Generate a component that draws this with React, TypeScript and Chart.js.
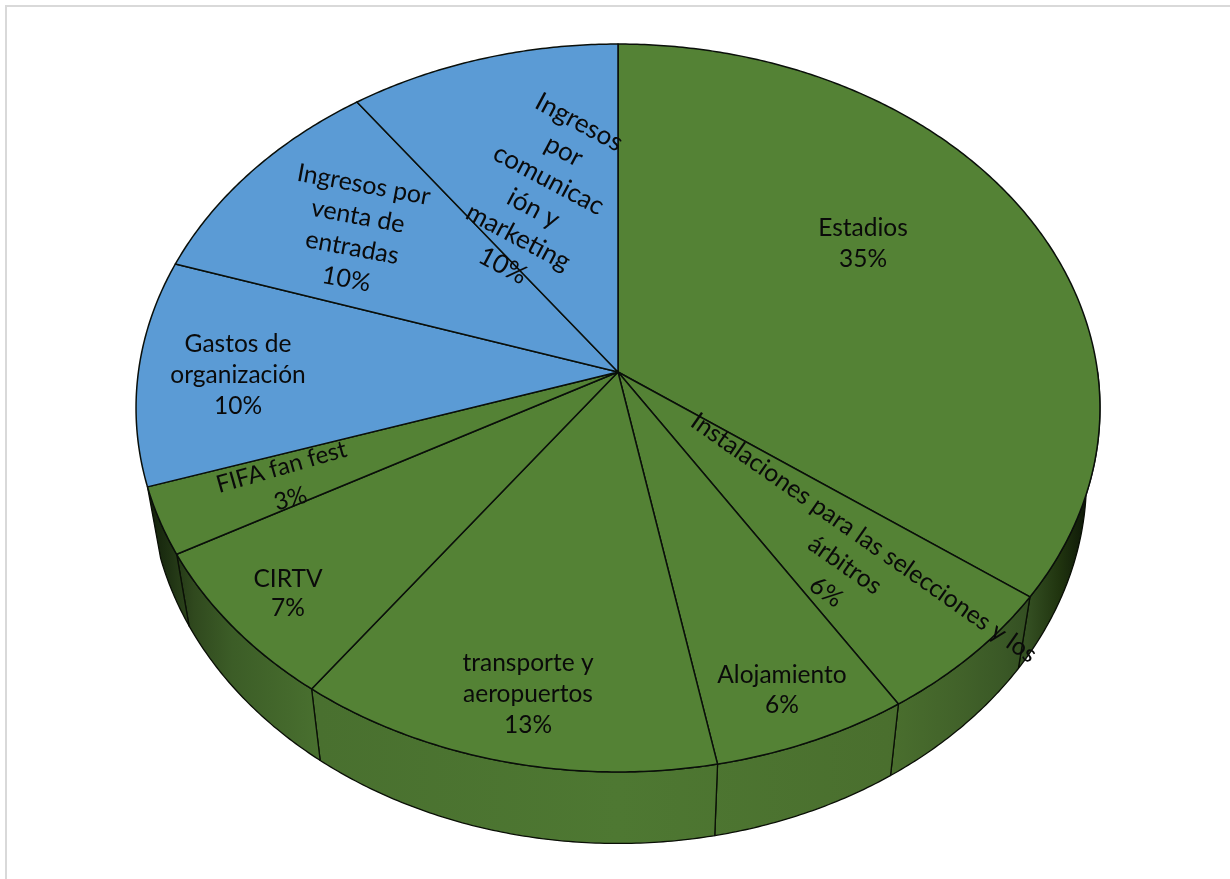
import React, { useEffect, useRef } from "react";
import { Chart, registerables } from "chart.js";

Chart.register(...registerables);

const categories = [
  "Estadios",
  "Instalaciones para las selecciones y los árbitros",
  "Alojamiento",
  "transporte y aeropuertos",
  "CIRTV",
  "FIFA fan fest",
  "Gastos de organización",
  "Ingresos por venta de entradas",
  "Ingresos por comunicación y marketing",
];
const values = [35, 6, 6, 13, 7, 3, 10, 10, 10];
const labelLines = [
  ["Estadios"],
  ["Instalaciones para las selecciones y los", "árbitros"],
  ["Alojamiento"],
  ["transporte y", "aeropuertos"],
  ["CIRTV"],
  ["FIFA fan fest"],
  ["Gastos de", "organización"],
  ["Ingresos por", "venta de", "entradas"],
  ["Ingresos", "por", "comunicac", "ión y", "marketing"],
];

const GREEN = "#548235";
const BLUE = "#5b9bd5";
const sliceColors = [GREEN, GREEN, GREEN, GREEN, GREEN, GREEN, BLUE, BLUE, BLUE];

// Label placement: centre x, centre y, rotation (deg), line spacing (px), font size (px)
const labelPlacement: [number, number, number, number, number][] = [
  [863, 244, 0, 31, 24.5],
  [845, 565, 35, 33, 24.8],
  [782, 690, 0, 30, 24.5],
  [528, 694, 0, 31, 24.5],
  [288, 594, 0, 29, 24.5],
  [286, 483, -16, 33, 24],
  [238, 375, 0, 31, 24.5],
  [355, 232, 10.5, 32, 25],
  [541, 194, 28, 32.5, 26],
];

// Projection of the pie disc (perspective view)
const APEX_X = 618;
const APEX_Y = 372;
const K = 0.0989;
const A = 479.6;
const B = 360.4;
const WALL_SCALE = 0.972;
const WALL_DROP = 71.5;

function project(theta: number): [number, number] {
  const x = Math.sin(theta);
  const y = -Math.cos(theta);
  const w = 1 - K * y;
  return [APEX_X + (A * x) / w, APEX_Y + (B * y) / w];
}
function projectBottom(theta: number): [number, number] {
  const [x, y] = project(theta);
  return [APEX_X + (x - APEX_X) * WALL_SCALE, y + WALL_DROP];
}

const pie3dPlugin = {
  id: "pie3d",
  beforeDatasetsDraw(chart: any) {
    const ctx: CanvasRenderingContext2D = chart.ctx;
    const arcs = chart.getDatasetMeta(0).data;
    const step = Math.PI / 360;
    ctx.save();
    ctx.lineJoin = "round";

    const grad = ctx.createLinearGradient(136, 0, 1100, 0);
    grad.addColorStop(0, "#0c1506");
    grad.addColorStop(0.03, "#1c2e11");
    grad.addColorStop(0.06, "#30491e");
    grad.addColorStop(0.1, "#3c5d27");
    grad.addColorStop(0.19, "#49702f");
    grad.addColorStop(0.5, "#4e7832");
    grad.addColorStop(0.78, "#4a6f2e");
    grad.addColorStop(0.85, "#42632a");
    grad.addColorStop(0.9, "#3a5826");
    grad.addColorStop(0.925, "#344f22");
    grad.addColorStop(0.958, "#20340f");
    grad.addColorStop(0.984, "#0f1a08");
    grad.addColorStop(1, "#0a1205");

    // Side wall
    arcs.forEach((arc: any, i: number) => {
      if (sliceColors[i] === BLUE) return;
      const t0 = Math.max(arc.startAngle + Math.PI / 2, Math.PI / 2);
      const t1 = Math.min(arc.endAngle + Math.PI / 2, (3 * Math.PI) / 2);
      if (t1 <= t0) return;
      ctx.beginPath();
      for (let t = t0; t < t1; t += step) {
        const [x, y] = project(t);
        if (t === t0) ctx.moveTo(x, y);
        else ctx.lineTo(x, y);
      }
      ctx.lineTo(...project(t1));
      for (let t = t1; t > t0; t -= step) ctx.lineTo(...projectBottom(t));
      ctx.lineTo(...projectBottom(t0));
      ctx.closePath();
      ctx.fillStyle = grad;
      ctx.fill();
      ctx.strokeStyle = "#0a0f06";
      ctx.lineWidth = 1.3;
      ctx.stroke();
    });

    // Top face
    arcs.forEach((arc: any, i: number) => {
      const t0 = arc.startAngle + Math.PI / 2;
      const t1 = arc.endAngle + Math.PI / 2;
      ctx.beginPath();
      ctx.moveTo(APEX_X, APEX_Y);
      for (let t = t0; t < t1; t += step) ctx.lineTo(...project(t));
      ctx.lineTo(...project(t1));
      ctx.closePath();
      ctx.fillStyle = sliceColors[i];
      ctx.fill();
      ctx.strokeStyle = "#0a0f0a";
      ctx.lineWidth = 1.5;
      ctx.stroke();
    });
    ctx.restore();

    // Labels
    ctx.save();
    ctx.textAlign = "center";
    ctx.textBaseline = "middle";
    ctx.fillStyle = "#0a0a0a";
    labelLines.forEach((lines, i) => {
      const [cx, cy, rot, sp, size] = labelPlacement[i];
      const all = [...lines, `${values[i]}%`];
      ctx.save();
      ctx.font = `${size}px Lato, "Open Sans", sans-serif`;
      ctx.translate(cx, cy);
      ctx.rotate((rot * Math.PI) / 180);
      all.forEach((line, j) => {
        ctx.fillText(line, 0, (j - (all.length - 1) / 2) * sp);
      });
      ctx.restore();
    });
    ctx.restore();
    return false;
  },
};

export default function App() {
  const ref = useRef<HTMLCanvasElement | null>(null);
  useEffect(() => {
    document.body.style.margin = "0";
    document.body.style.background = "#ffffff";
    const chart = new Chart(ref.current as HTMLCanvasElement, {
      type: "pie",
      data: {
        labels: categories,
        datasets: [{ data: values, backgroundColor: sliceColors, borderColor: "#000000", borderWidth: 1 }],
      },
      options: {
        animation: false,
        responsive: false,
        events: [],
        layout: { padding: 0 },
        plugins: { legend: { display: false }, tooltip: { enabled: false }, title: { display: false } },
      },
      plugins: [pie3dPlugin],
    } as any);
    return () => chart.destroy();
  }, []);
  return (
    <div style={{ position: "relative", width: 1230, height: 879, overflow: "hidden" }}>
      <div
        style={{
          position: "absolute",
          left: 5,
          top: 5,
          right: 0,
          bottom: 0,
          borderLeft: "2px solid #d9d9d9",
          borderTop: "2px solid #d9d9d9",
        }}
      />
      <canvas ref={ref} width={1230} height={879} style={{ position: "absolute", left: 0, top: 0 }} />
    </div>
  );
}
